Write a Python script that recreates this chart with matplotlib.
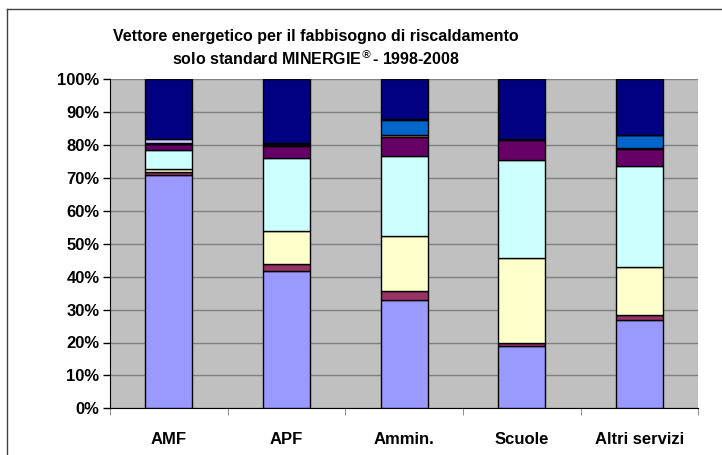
import numpy as np
import matplotlib.pyplot as plt
from matplotlib.ticker import MultipleLocator, PercentFormatter

plt.rcParams['font.family'] = ['Liberation Sans', 'DejaVu Sans']

# Categories (building types)
categories = ['AMF', 'APF', 'Ammin.', 'Scuole', 'Altri servizi']

# Shares (%) of each energy carrier, bottom to top of each bar
serie_1 = [71.0, 41.6, 32.8, 18.8, 26.7]
serie_2 = [0.8, 2.3, 2.8, 1.2, 1.8]
serie_3 = [0.9, 9.9, 16.9, 25.8, 14.4]
serie_4 = [5.9, 22.4, 24.1, 29.8, 30.7]
serie_5 = [1.6, 3.6, 6.0, 6.1, 5.2]
serie_6 = [0.2, 0.3, 0.5, 0.1, 0.2]
serie_7 = [0.3, 0.3, 4.6, 0.1, 4.0]
serie_8 = [1.3, 0.2, 0.1, 0.1, 0.2]
serie_9 = [18.0, 19.4, 12.2, 18.0, 16.8]

series = [serie_1, serie_2, serie_3, serie_4, serie_5,
          serie_6, serie_7, serie_8, serie_9]
# Excel default palette
colors = ['#9999FF', '#993366', '#FFFFCC', '#CCFFFF', '#660066',
          '#FF8080', '#0066CC', '#CCCCFF', '#000080']

fig = plt.figure(figsize=(7.22, 4.55), dpi=100)
ax = fig.add_axes([110 / 722, 1 - 408.3 / 455, 588.3 / 722, 329 / 455])
ax.set_facecolor('#C0C0C0')

x = np.arange(len(categories))
bottom = np.zeros(len(categories))
for vals, col in zip(series, colors):
    vals = np.array(vals)
    ax.bar(x, vals, bottom=bottom, width=0.4, color=col,
           edgecolor='black', linewidth=1.0, zorder=3)
    bottom += vals

ax.set_xlim(-0.5, len(categories) - 0.5)
ax.set_ylim(0, 100)
ax.yaxis.set_major_locator(MultipleLocator(10))
ax.yaxis.set_major_formatter(PercentFormatter(decimals=0))
ax.grid(axis='y', color='#808080', linewidth=1, zorder=0)

ax.set_xticks(x)
ax.set_xticklabels(categories, fontsize=12, fontweight='bold')
ax.tick_params(axis='x', length=0, pad=17)
ax.set_xticks(np.arange(len(categories) + 1) - 0.5, minor=True)
ax.tick_params(axis='x', which='minor', length=5, color='#808080')
ax.tick_params(axis='y', length=5, width=1, labelsize=12, pad=2.5)
for lab in ax.get_yticklabels():
    lab.set_fontweight('bold')

for side in ['top', 'right']:
    ax.spines[side].set_visible(False)
ax.spines['left'].set_color('black')
ax.spines['bottom'].set_color('black')

fig.text(316 / 722, 1 - 37 / 455,
         'Vettore energetico per il fabbisogno di riscaldamento',
         ha='center', va='center', fontsize=11.5, fontweight='bold')
fig.text(316 / 722, 1 - 58 / 455,
         'solo standard MINERGIE$^{\u00ae}$- 1998-2008',
         ha='center', va='center', fontsize=11.5, fontweight='bold')

# outer chart frame
fig.add_artist(plt.Line2D([7 / 722, 7 / 722], [0, 1 - 9 / 455],
                          transform=fig.transFigure, color='#404040', lw=1))
fig.add_artist(plt.Line2D([7 / 722, 1], [1 - 9 / 455, 1 - 9 / 455],
                          transform=fig.transFigure, color='#404040', lw=1))

fig.savefig('out.png', dpi=100)
